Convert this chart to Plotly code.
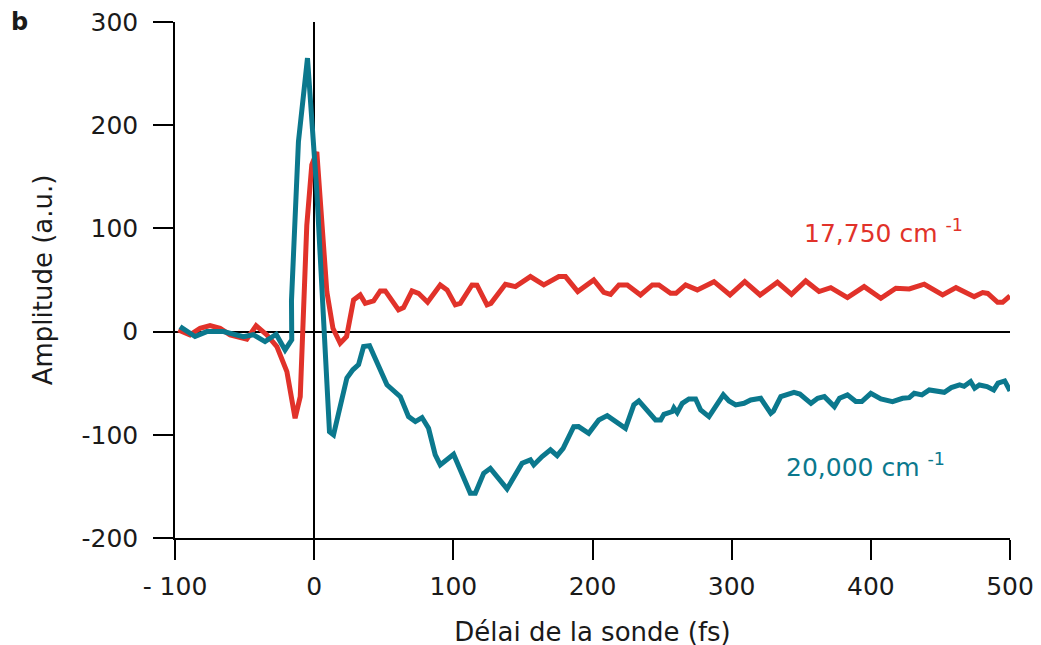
import plotly.graph_objects as go

# 17,750 cm-1 trace (red)
red_x = [-97.6, -89.2, -82, -74.8, -67.6, -60.4, -48.4, -41.7, -34, -26.8, -19.6, -13.7, -10, -5.3, -1.7, 1.9,
         9.1, 13.5, 18.7, 23.3, 28.3, 33.1, 36.7, 42.7, 47.5, 51.1, 60.6, 64.2, 70.3, 75, 81.5, 90.6, 95.5,
         101.4, 105, 113.4, 117, 124.2, 127, 137.4, 144.6, 155.4, 165, 175.8, 180.6, 189.4, 200.9, 208.1, 213,
         219, 225, 234.5, 243, 247.7, 256.1, 260, 266.9, 275.3, 287.3, 298.8, 309.4, 320.4, 332.9, 343, 353.2,
         362.8, 371.2, 383.2, 395.2, 407.2, 418, 427.6, 438.4, 451.6, 461.2, 474.3, 480.4, 484, 491.1, 494.7, 500]
red_y = [1.6, -3.2, 3.2, 5.8, 3.2, -3.2, -7.4, 5.8, -3.2, -14.5, -38.8, -84, -63, 103, 161.5, 174,
         38.8, 3.2, -11.3, -4.8, 30.7, 35.5, 27.4, 29.7, 39.4, 39.4, 21, 23.3, 39.4, 37.1, 28.4, 45.2, 40.4,
         25.9, 27.4, 45.2, 45, 25.9, 27.4, 45.8, 43.6, 53.3, 45.2, 53.3, 53.3, 38.8, 50.1, 38.1, 36.1,
         45.2, 45.2, 35.5, 45.2, 45.2, 37.1, 37.1, 45.2, 40.4, 48.4, 35.5, 48.4, 35.5, 47.8, 36.1, 49.1,
         38.8, 42.6, 32.9, 43.6, 32.3, 42, 41.4, 45.9, 35.5, 42.6, 33.9, 37.8, 37, 28.4, 28.4, 34.6]

# 20,000 cm-1 trace (teal)
teal_x = [-96.4, -85.6, -77.2, -65.2, -50.9, -43.7, -35.3, -27.3, -20.9, -16.1, -16.3, -11.3, -4.8, 1.9, 11,
          13.9, 23.5, 27.8, 31.9, 35.5, 39.8, 52.3, 61.9, 67.8, 72.7, 77.5, 82.2, 87, 90.6, 95.5, 100.2,
          112.2, 115.8, 121.8, 126.6, 138.6, 149.4, 155.4, 157.8, 163.8, 169.8, 174.6, 178.9, 186.5, 190,
          197.3, 204.5, 210.6, 215.3, 223.7, 229.7, 233.3, 245.3, 249, 251.3, 257.3, 258.5, 260.9, 264.5,
          269.3, 274.1, 277.7, 283.7, 288.5, 294, 298.1, 302.9, 308.9, 313.7, 320.9, 328.1, 330, 335.3,
          344.8, 349, 357, 361.8, 366.6, 371.4, 373.8, 377.5, 383.2, 389.2, 393.5, 400, 407.2, 415.6,
          422.8, 427.6, 431.2, 436.7, 442, 452.8, 457.8, 463.8, 467, 471.7, 474.6, 478, 483.5, 488.3,
          491.4, 496.2, 500]
teal_y = [4.8, -4.8, 0, 0, -5, -3, -9.7, -2.6, -17.8, -8, 30, 184, 265, 136, -97,
          -100, -45, -37, -32, -14.5, -13.6, -51.6, -63, -82.4, -87.2, -83.3, -93.7, -119.5, -129.2, -124.3, -118.9,
          -156.7, -156.7, -137.3, -132.5, -152.4, -127.6, -124.3, -129.2, -121.1, -114.6, -120.2, -113.1, -92.1, -92,
          -98.5, -85.6, -81.4, -85.6, -93.7, -71, -67.2, -85.6, -85.6, -80.2, -77.5, -74, -78.5, -69.5,
          -65.2, -65.2, -75.9, -82.4, -71.7, -61.3, -67.2, -71, -69.5, -66.2, -64.6, -79.2, -77, -63,
          -58.8, -60.5, -69.5, -64.6, -63, -69.5, -72.7, -64.6, -61.3, -67.8, -67.8, -59.8, -65.2, -67.8,
          -64.6, -64, -59.8, -61.3, -56.5, -58.8, -54.3, -51.7, -53, -48.4, -54.9, -51.7, -53.3, -56.5,
          -50, -47.8, -57.5]

x_ticks = [-100, 0, 100, 200, 300, 400, 500]
x_tick_labels = ["- 100", "0", "100", "200", "300", "400", "500"]
y_ticks = [-200, -100, 0, 100, 200, 300]
y_tick_labels = ["-200", "-100", "0", "100", "200", "300"]

RED = "#E1322A"
TEAL = "#0B788D"
FONT = "DejaVu Sans"
TXT = "#1a1a1a"

fig = go.Figure()
fig.add_trace(go.Scatter(x=red_x, y=red_y, mode="lines", line=dict(color=RED, width=5), showlegend=False))
fig.add_trace(go.Scatter(x=teal_x, y=teal_y, mode="lines", line=dict(color=TEAL, width=5), showlegend=False))

# page body adds an 8 px offset; margins compensate for it
OFF = 8
W, H = 1041, 645
L, T = 175 - OFF, 22 - OFF
R = W - (1010 - OFF)
B = H - (538 - OFF)
pw, ph = W - L - R, H - T - B

fig.update_layout(
    width=W, height=H,
    margin=dict(l=L, r=R, t=T, b=B),
    paper_bgcolor="white", plot_bgcolor="white",
    font=dict(family=FONT, color=TXT, size=24),
    xaxis=dict(range=[-100, 500], tickvals=x_ticks, ticktext=x_tick_labels,
               showline=True, linecolor="black", linewidth=1.5,
               ticks="outside", ticklen=20, tickwidth=1.5, tickcolor="black",
               showgrid=False, zeroline=True, zerolinecolor="black", zerolinewidth=1.5,
               tickfont=dict(size=25), ticklabelstandoff=5, automargin=False,
               ticklabeloverflow="allow",
               title=dict(text="Délai de la sonde (fs)", font=dict(size=26), standoff=23)),
    yaxis=dict(range=[-200, 300], tickvals=y_ticks, ticktext=y_tick_labels,
               showline=True, linecolor="black", linewidth=1.5,
               ticks="outside", ticklen=20, tickwidth=1.5, tickcolor="black",
               showgrid=False, zeroline=True, zerolinecolor="black", zerolinewidth=1.5,
               tickfont=dict(size=25), ticklabelstandoff=10, automargin=False,
               ticklabeloverflow="allow",
               title=dict(text="Amplitude (a.u.)", font=dict(size=26), standoff=21)),
    annotations=[
        dict(x=409, y=97, xref="x", yref="y", text="17,750 cm <sup>-1</sup>", showarrow=False,
             font=dict(size=25, color=RED, family=FONT)),
        dict(x=396, y=-130, xref="x", yref="y", text="20,000 cm <sup>-1</sup>", showarrow=False,
             font=dict(size=25, color=TEAL, family=FONT)),
        dict(x=(19 - OFF - L) / pw, y=1 - (22 - OFF - T) / ph, xref="paper", yref="paper", text="<b>b</b>",
             showarrow=False, xanchor="center", yanchor="middle",
             font=dict(size=24, color=TXT, family=FONT)),
    ],
)

fig.write_html("out.html")
